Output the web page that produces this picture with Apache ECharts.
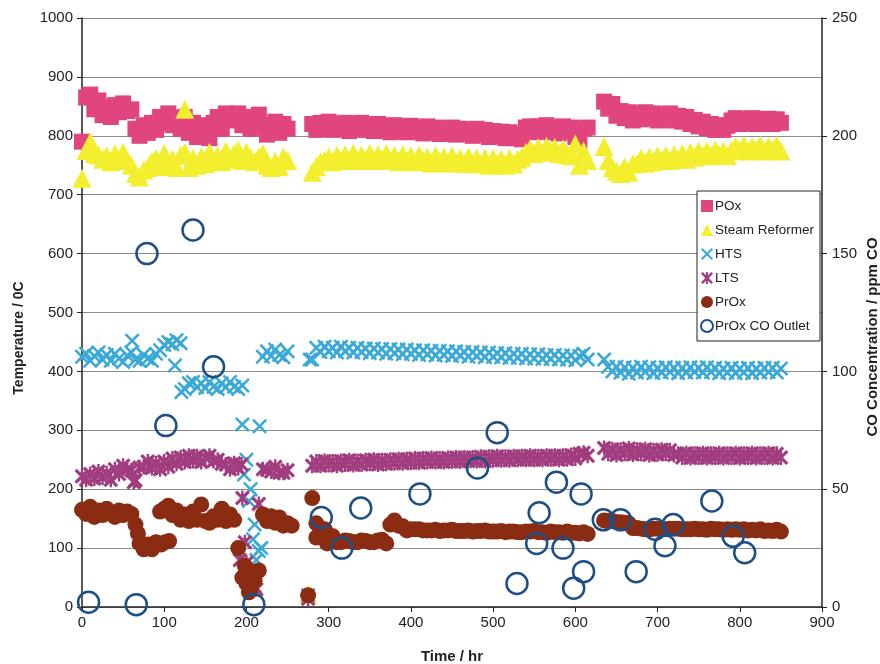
<!DOCTYPE html>
<html>
<head>
<meta charset="utf-8">
<script src="https://cdn.jsdelivr.net/npm/echarts@6/dist/echarts.min.js"></script>
<style>
  html, body { margin: 0; padding: 0; background: #fff; }
  #chart { width: 880px; height: 664px; }
</style>
</head>
<body>
<div id="chart"></div>
<script>
// Logging times (hr) shared by the five temperature traces
const hours = [
  0, 5, 10, 15, 20, 25, 30, 35, 40, 45,
  50, 55, 60, 65, 70, 75, 80, 85, 90, 95,
  100, 105, 110, 115, 120, 125, 130, 135, 140, 145,
  150, 155, 160, 165, 170, 175, 180, 185, 190, 195,
  200, 205, 210, 215, 220, 225, 230, 235, 240, 245,
  250,
  275,
  280, 285, 290, 295, 300, 305, 310, 315, 320, 325,
  330, 335, 340, 345, 350, 355, 360, 365, 370, 375,
  380, 385, 390, 395, 400, 405, 410, 415, 420, 425,
  430, 435, 440, 445, 450, 455, 460, 465, 470, 475,
  480, 485, 490, 495, 500, 505, 510, 515, 520, 525,
  530, 535, 540, 545, 550, 555, 560, 565, 570, 575,
  580, 585, 590, 595, 600, 605, 610, 615,
  635, 640, 645, 650, 655, 660, 665, 670, 675, 680,
  685, 690, 695, 700, 705, 710, 715, 720, 725, 730,
  735, 740, 745, 750, 755, 760, 765, 770, 775, 780,
  785, 790, 795, 800, 805, 810, 815, 820, 825, 830,
  835, 840, 845, 850
];

// POx temperature (°C)
const poxTemp = [
  790, 865, 870, 845, 860, 835, 848, 832, 852, 840,
  855, 842, 845, 812, 800, 818, 805, 822, 810, 832,
  822, 838, 818, 830, 812, 832, 805, 822, 798, 818,
  810, 796, 822, 832, 812, 838, 835, 826, 838, 818,
  832, 812, 825, 836, 815, 802, 818, 824, 805, 820,
  812,
  null,
  820, 810, 822, 812, 824, 810, 820, 813, 822, 808,
  820, 812, 822, 810, 818, 808, 820, 810, 817, 806,
  818, 808, 816, 806, 817, 808, 814, 804, 816, 806,
  814, 803, 812, 804, 814, 802, 812, 804, 810, 800,
  812, 802, 810, 798, 808, 800, 807, 796, 806, 796,
  802, 794, 814, 816, 806, 816, 808, 818, 806, 814,
  804, 816, 808, 814, 798, 792, 812, 814,
  858, 846, 854, 834, 842, 830, 840, 826, 837, 828,
  840, 830, 838, 826, 836, 828, 838, 826, 834, 824,
  832, 820, 827, 816, 824, 813, 820, 810, 818, 810,
  817, 826, 830, 820, 828, 822, 830, 820, 828, 821,
  829, 820, 828, 822
];

// Steam reformer temperature (°C)
const reformerTemp = [
  728, 775, 790, 770, 768, 760, 766, 756, 770, 760,
  772, 758, 750, 736, 730, 742, 746, 757, 762, 748,
  770, 750, 760, 746, 767, 772, 746, 762, 750, 764,
  753, 772, 758, 767, 756, 774, 760, 770, 776, 758,
  772, 763, 756, 764, 770, 750, 746, 757, 748, 764,
  758,
  22,
  738, 748, 756, 758, 764, 756, 767, 758, 768, 760,
  770, 758, 767, 760, 770, 758, 768, 760, 770, 758,
  767, 756, 768, 758, 766, 756, 767, 758, 764, 754,
  766, 756, 764, 754, 766, 756, 762, 753, 764, 754,
  762, 752, 762, 750, 762, 753, 760, 750, 762, 752,
  760, 764, 772, 778, 770, 780, 772, 782, 774, 780,
  770, 778, 768, 766, 786, 750, 774, 758,
  782, 758, 746, 740, 736, 747, 738, 752, 753, 762,
  754, 764, 756, 766, 758, 767, 758, 768, 760, 770,
  760, 772, 764, 774, 766, 774, 766, 776, 768, 774,
  766, 776, 782, 776, 784, 774, 782, 776, 784, 774,
  782, 776, 784, 774
];

// HTS temperature (°C)
const htsTemp = [
  425, 430, 418, 426, 432, 420, 428, 418, 430, 422,
  416, 427, 432, 420, 418, 428, 422, 418, 430, 436,
  445, 450, 446, 453, 448, 370, 380, 382, 373, 380,
  372, 382, 374, 370, 380, 373, 382, 374, 370, 376,
  250, 200, 140, 95, 425, 434, 426, 437, 428, 424,
  434,
  20,
  420, 440, 433, 442, 434, 440, 432, 442, 434, 440,
  432, 440, 433, 439, 431, 439, 432, 438, 430, 438,
  431, 437, 429, 437, 430, 436, 428, 436, 429, 435,
  427, 435, 428, 434, 426, 434, 427, 433, 425, 433,
  426, 432, 424, 432, 425, 431, 424, 431, 423, 430,
  423, 430, 422, 429, 422, 429, 421, 428, 421, 428,
  420, 427, 420, 427, 419, 426, 430, 420,
  420, 408, 400, 408, 398, 407, 396, 406, 398, 408,
  399, 407, 397, 406, 398, 407, 399, 406, 397, 406,
  398, 407, 399, 406, 398, 407, 399, 406, 397, 405,
  398, 406, 397, 405, 398, 406, 397, 405, 398, 406,
  399, 406, 398, 405
];

// LTS temperature (°C)
const ltsTemp = [
  222, 216, 226, 218, 230, 220, 227, 216, 234, 226,
  240, 233, 232, 215, 237, 238, 247, 236, 244, 234,
  247, 238, 252, 243, 254, 246, 257, 248, 256, 246,
  254, 257, 248, 250, 243, 242, 234, 244, 236, 185,
  75, 40, 35, 175, 234, 233, 230, 238, 228, 228,
  232,
  14,
  240, 247, 240, 248, 241, 247, 240, 248, 242, 249,
  241, 248, 242, 249, 243, 250, 242, 249, 243, 250,
  244, 251, 244, 251, 245, 252, 245, 252, 246, 253,
  246, 252, 246, 253, 247, 254, 247, 254, 248, 254,
  248, 255, 248, 255, 249, 256, 249, 255, 249, 256,
  250, 256, 250, 257, 250, 256, 250, 257, 251, 257,
  250, 257, 251, 258, 252, 260, 262, 257,
  270, 260, 268, 258, 267, 260, 269, 259, 267, 260,
  268, 258, 266, 259, 267, 260, 266, 258, 260, 254,
  261, 253, 260, 254, 261, 253, 260, 254, 261, 253,
  260, 254, 261, 253, 260, 254, 261, 253, 260, 254,
  261, 253, 260, 254
];

// PrOx temperature (°C)
const proxTemp = [
  165, 158, 170, 153, 164, 156, 167, 158, 153, 164,
  156, 162, 158, 140, 108, 98, 106, 98, 110, 162,
  167, 172, 156, 164, 148, 157, 146, 162, 148, 174,
  146, 143, 154, 148, 167, 146, 157, 148, 100, 50,
  40, 30, 45, 62, 157, 146, 154, 143, 152, 138,
  142,
  20,
  185, 142, 133, 132, 123, 120, 110, 110, 113, 112,
  110, 110, 113, 112, 110, 110, 113, 114, 108, 140,
  147, 138, 137, 130, 132, 132, 132, 130, 130, 130,
  131, 129, 130, 130, 131, 129, 129, 129, 130, 128,
  129, 129, 130, 128, 128, 128, 129, 127, 128, 128,
  127, 127, 128, 128, 129, 127, 127, 126, 128, 127,
  127, 126, 128, 126, 126, 125, 127, 124,
  147, 146, 146, 144, 144, 143, 142, 134, 134, 133,
  132, 132, 133, 133, 132, 132, 133, 133, 133, 132,
  132, 132, 133, 132, 132, 131, 133, 132, 132, 131,
  132, 131, 132, 131, 132, 130, 131, 130, 132, 129,
  130, 129, 131, 128
];

// Off-schedule readings logged between the regular samples: [hr, °C]
const reformerExtra = [[125, 845]];
const htsExtra = [[61, 452], [113, 410], [121, 365], [195, 310], [197, 225], [203, 180],
  [208, 115], [212, 80], [216, 307], [218, 100], [277, 420]];
const ltsExtra = [[63, 212], [192, 80], [194, 242], [198, 110], [212, 30]];
const proxExtra = [[68, 125], [96, 106], [101, 110], [106, 112], [198, 70], [203, 25],
  [207, 60], [255, 138], [285, 118], [292, 128], [298, 108]];

// PrOx outlet CO samples (right axis, ppm)
const coHours = [8, 66, 79, 102, 135, 160, 209, 291, 316, 339, 411, 481, 505, 529, 553,
  556, 577, 585, 598, 607, 610, 634, 655, 674, 697, 709, 719, 766, 792, 806];
const coPpm = [2, 1, 150, 77, 160, 102, 1, 38, 25, 42, 48, 59, 74, 10, 27,
  40, 53, 25, 8, 48, 15, 37, 37, 15, 33, 26, 35, 45, 30, 23];

const leftTicks = [0, 1000, 100];
const rightTicks = [0, 250, 50];
const timeTicks = [0, 900, 100];

function toPoints(xs, ys, extra) {
  const pts = [];
  xs.forEach((t, i) => { if (ys[i] != null) pts.push([t, ys[i]]); });
  return extra ? pts.concat(extra) : pts;
}

const FONT = 'Liberation Sans, Arial, Helvetica, sans-serif';
const plain = v => String(v);
const thinCross = 'path://M0,1.2L1.2,0L5,3.8L8.8,0L10,1.2L6.2,5L10,8.8L8.8,10L5,6.2L1.2,10L0,8.8L3.8,5Z';
const starCross = 'path://M0,1.5L1.5,0L5,3.5L8.5,0L10,1.5L6.5,5L10,8.5L8.5,10L5,6.5L1.5,10L0,8.5L3.5,5Z M4.2,0L5.8,0L5.8,10L4.2,10Z';

// Vertical axis titles, placed as free text so they sit beside the tick columns
function axisTitle(text, x, y, size) {
  return {
    type: 'text', x: x, y: y, rotation: Math.PI / 2, silent: true,
    style: {
      text: text, fill: '#222', align: 'center', verticalAlign: 'middle',
      font: 'bold ' + size + 'px ' + FONT
    }
  };
}

const chart = echarts.init(document.getElementById('chart'), null, { renderer: 'canvas' });

chart.setOption({
  animation: false,
  backgroundColor: '#fff',
  textStyle: { fontFamily: FONT },
  grid: { left: 82, right: 58, top: 18, bottom: 57, containLabel: false, outerBoundsMode: 'none' },
  graphic: [
    axisTitle('Temperature / 0C', 19, 338, 14),
    axisTitle('CO Concentration / ppm CO', 873, 337, 15)
  ],
  legend: {
    orient: 'vertical',
    left: 697,
    top: 191,
    padding: [8, 6, 8, 3],
    itemWidth: 12,
    itemHeight: 12,
    itemGap: 10,
    backgroundColor: '#fff',
    borderColor: '#222',
    borderWidth: 1,
    borderRadius: 0,
    textStyle: { fontFamily: FONT, fontSize: 13.5, color: '#222', lineHeight: 14, padding: [0, 0, 0, -3] },
    data: ['POx', 'Steam Reformer', 'HTS', 'LTS', 'PrOx', 'PrOx CO Outlet']
  },
  xAxis: {
    type: 'value',
    min: timeTicks[0], max: timeTicks[1], interval: timeTicks[2],
    name: 'Time / hr',
    nameLocation: 'middle',
    nameGap: 42,
    nameTextStyle: { fontFamily: FONT, fontWeight: 'bold', fontSize: 15, color: '#222' },
    axisLine: { show: true, lineStyle: { color: '#222', width: 1.5 } },
    axisTick: { show: true, length: 5, lineStyle: { color: '#222' } },
    axisLabel: { fontFamily: FONT, fontSize: 15, color: '#222', margin: 8, formatter: plain },
    splitLine: { show: false }
  },
  yAxis: [
    {
      type: 'value',
      position: 'left',
      min: leftTicks[0], max: leftTicks[1], interval: leftTicks[2],
      axisLine: { show: true, lineStyle: { color: '#222', width: 1.5 } },
      axisTick: { show: true, length: 5, lineStyle: { color: '#222' } },
      axisLabel: { fontFamily: FONT, fontSize: 15, color: '#222', margin: 9, formatter: plain },
      splitLine: { show: true, lineStyle: { color: '#8c8c8c', width: 1 } }
    },
    {
      type: 'value',
      position: 'right',
      min: rightTicks[0], max: rightTicks[1], interval: rightTicks[2],
      axisLine: { show: true, lineStyle: { color: '#222', width: 1.5 } },
      axisTick: { show: true, length: 5, lineStyle: { color: '#222' } },
      axisLabel: { fontFamily: FONT, fontSize: 15, color: '#222', margin: 10, formatter: plain },
      splitLine: { show: false }
    }
  ],
  series: [
    {
      name: 'POx', type: 'scatter', symbol: 'rect', symbolSize: 16,
      itemStyle: { color: '#e0457f', opacity: 1 },
      data: toPoints(hours, poxTemp)
    },
    {
      name: 'Steam Reformer', type: 'scatter', symbol: 'triangle', symbolSize: 19,
      itemStyle: { color: '#f3ee2e', opacity: 1 },
      data: toPoints(hours, reformerTemp, reformerExtra)
    },
    {
      name: 'HTS', type: 'scatter', symbol: thinCross, symbolSize: 15,
      itemStyle: { color: '#3aa9d8', opacity: 1 },
      data: toPoints(hours, htsTemp, htsExtra)
    },
    {
      name: 'LTS', type: 'scatter', symbol: starCross, symbolSize: 15,
      itemStyle: { color: '#a13d7f', opacity: 1 },
      data: toPoints(hours, ltsTemp, ltsExtra)
    },
    {
      name: 'PrOx', type: 'scatter', symbol: 'circle', symbolSize: 16,
      itemStyle: { color: '#8a2c12', opacity: 1 },
      data: toPoints(hours, proxTemp, proxExtra)
    },
    {
      name: 'PrOx CO Outlet', type: 'scatter', yAxisIndex: 1, symbol: 'circle', symbolSize: 21,
      itemStyle: { color: 'rgba(255,255,255,0)', borderColor: '#1d4f86', borderWidth: 2.5, opacity: 1 },
      data: toPoints(coHours, coPpm)
    }
  ]
});
</script>
</body>
</html>
